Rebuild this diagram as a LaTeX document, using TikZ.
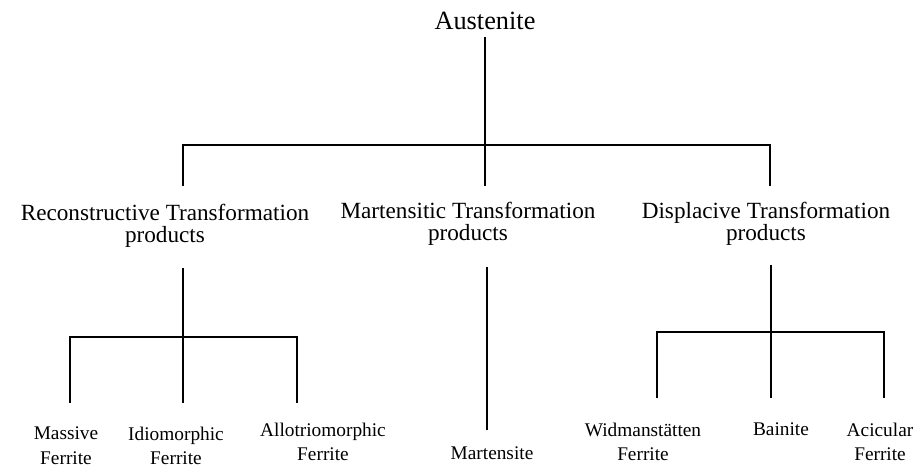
\documentclass[tikz,border=0pt]{standalone}
\usepackage{fontspec}
\setmainfont{Liberation Serif}
\usetikzlibrary{positioning}
\tikzset{
branch/.style={line width=1pt}, % the lines of the tree
phase/.style={inner sep=0pt, outer sep=4pt, anchor=north, align=center}, % every label
top/.style={phase, font=\fontsize{15}{17}\selectfont}, % the parent phase
group/.style={phase, font=\fontsize{13.2}{12.5}\selectfont}, % the three kinds of transformation
leaf/.style={phase, font=\fontsize{11}{13.9}\selectfont}, % the products at the bottom
}
\begin{document}
\begin{tikzpicture}[x=0.02cm, y=-0.02cm]
            \useasboundingbox (0,0) rectangle (919,468);
            \node[top] (aus) at (485,5) {Austenite};
            \node[group] (rec) at (165,197) {Reconstructive Transformation\\products};
            \node[group] (mar) at (468,195) {Martensitic Transformation\\products};
            \node[group] (dis) at (766,195) {Displacive Transformation\\products};
            \node[leaf] (mas) at (66,420) {Massive\\Ferrite};
            \node[leaf] (idi) at (176,420) {Idiomorphic\\Ferrite};
            \node[leaf] (all) at (323,416) {Allotriomorphic\\Ferrite};
            \node[leaf] (mrt) at (492,440) {Martensite};
            \node[leaf] (wid) at (643,416) {Widmanst\"atten\\Ferrite};
            \node[leaf] (bai) at (781,416) {Bainite};
            \node[leaf] (aci) at (880,416) {Acicular\\Ferrite};
            \coordinate (j0) at (485,145);
            \coordinate (r0) at (183,186);
            \coordinate (m0) at (485,186);
            \coordinate (d0) at (770,186);
            \coordinate (r1) at (183,268);
            \coordinate (j1) at (183,337);
            \coordinate (r2) at (70,403);
            \coordinate (r3) at (183,403);
            \coordinate (r4) at (297,403);
            \coordinate (m1) at (487,267);
            \coordinate (m2) at (487,430);
            \coordinate (d1) at (771,265);
            \coordinate (j2) at (771,332);
            \coordinate (d2) at (657,398);
            \coordinate (d3) at (771,398);
            \coordinate (d4) at (884,398);
            \draw[branch]
                (aus) -- (j0) -- (m0)
                (r0) |- (j0) -| (d0)
                (r1) -- (j1) -- (r3)
                (r2) |- (j1) -| (r4)
                (m1) -- (m2)
                (d1) -- (j2) -- (d3)
                (d2) |- (j2) -| (d4)
                ;
\end{tikzpicture}
\end{document}
